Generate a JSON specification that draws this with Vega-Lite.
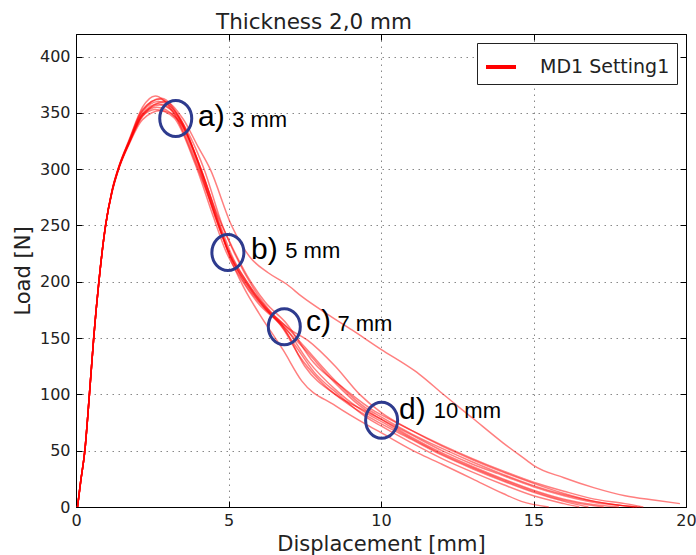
{
  "$schema": "https://vega.github.io/schema/vega-lite/v6.json",
  "width": 610,
  "height": 473,
  "autosize": {"type": "none"},
  "padding": {"left": 76, "top": 34, "right": 10, "bottom": 48},
  "background": "white",
  "title": {"text": "Thickness 2,0 mm", "anchor": "start", "frame": "group", "dx": 140, "fontSize": 21.5, "font": "DejaVu Sans", "fontWeight": "normal", "color": "#222", "baseline": "alphabetic", "offset": -17},
  "config": {
    "view": {"stroke": "#000", "strokeWidth": 1},
    "axis": {
      "domainColor": "#000", "domainWidth": 1,
      "tickColor": "#000", "tickSize": -6, "tickWidth": 1,
      "gridColor": "#888", "gridDash": [1.5, 4.5], "gridWidth": 1, "gridOpacity": 1,
      "labelFont": "DejaVu Sans", "labelFontSize": 16, "labelColor": "#222", "labelFlush": false,
      "titleFont": "DejaVu Sans", "titleFontSize": 21, "titleFontWeight": "normal", "titleColor": "#222"
    },
    "legend": {"labelFont": "DejaVu Sans"}
  },
  "datasets": {
    "curves": [
      {"c":1,"x":0.05,"y":0},{"c":1,"x":0.15,"y":22},{"c":1,"x":0.29,"y":50},{"c":1,"x":0.44,"y":100},{"c":1,"x":0.58,"y":150},{"c":1,"x":0.75,"y":200},{"c":1,"x":0.97,"y":250},{"c":1,"x":1.18,"y":280},{"c":1,"x":1.39,"y":300},{"c":1,"x":1.74,"y":324},
      {"c":1,"x":2.18,"y":349},{"c":1,"x":2.7,"y":358},{"c":1,"x":3.3,"y":348},{"c":1,"x":4.0,"y":305},{"c":1,"x":4.6,"y":255},{"c":1,"x":5.0,"y":227},{"c":1,"x":5.5,"y":200},{"c":1,"x":6.0,"y":182},{"c":1,"x":6.8,"y":160},{"c":1,"x":7.5,"y":140},{"c":1,"x":8.5,"y":110},{"c":1,"x":9.3,"y":90},{"c":1,"x":10,"y":78},{"c":1,"x":11,"y":62},{"c":1,"x":12,"y":48},{"c":1,"x":13,"y":36},{"c":1,"x":14,"y":25},{"c":1,"x":15,"y":15},{"c":1,"x":16,"y":7},{"c":1,"x":17,"y":2},{"c":1,"x":17.8,"y":0},
      {"c":2,"x":0.05,"y":0},{"c":2,"x":0.15,"y":22},{"c":2,"x":0.29,"y":50},{"c":2,"x":0.44,"y":100},{"c":2,"x":0.58,"y":150},{"c":2,"x":0.75,"y":200},{"c":2,"x":0.97,"y":250},{"c":2,"x":1.18,"y":281},{"c":2,"x":1.39,"y":301},{"c":2,"x":1.74,"y":326},
      {"c":2,"x":2.18,"y":355},{"c":2,"x":2.6,"y":365},{"c":2,"x":3.2,"y":350},{"c":2,"x":4.0,"y":300},{"c":2,"x":4.7,"y":250},{"c":2,"x":5.0,"y":228},{"c":2,"x":5.6,"y":200},{"c":2,"x":6.2,"y":178},{"c":2,"x":6.8,"y":160},{"c":2,"x":7.5,"y":125},{"c":2,"x":8.5,"y":100},{"c":2,"x":9.5,"y":85},{"c":2,"x":10,"y":78},{"c":2,"x":11,"y":64},{"c":2,"x":12,"y":50},{"c":2,"x":13,"y":38},{"c":2,"x":14,"y":28},{"c":2,"x":15,"y":18},{"c":2,"x":16,"y":10},{"c":2,"x":17,"y":4},{"c":2,"x":18,"y":1},{"c":2,"x":18.4,"y":0},
      {"c":3,"x":0.05,"y":0},{"c":3,"x":0.15,"y":22},{"c":3,"x":0.29,"y":50},{"c":3,"x":0.44,"y":100},{"c":3,"x":0.58,"y":150},{"c":3,"x":0.75,"y":200},{"c":3,"x":0.97,"y":250},{"c":3,"x":1.18,"y":279},{"c":3,"x":1.39,"y":299},{"c":3,"x":1.74,"y":322},
      {"c":3,"x":2.18,"y":344},{"c":3,"x":2.8,"y":352},{"c":3,"x":3.4,"y":342},{"c":3,"x":4.1,"y":300},{"c":3,"x":4.7,"y":250},{"c":3,"x":5.0,"y":225},{"c":3,"x":5.5,"y":195},{"c":3,"x":6.0,"y":172},{"c":3,"x":6.8,"y":139},{"c":3,"x":7.4,"y":112},{"c":3,"x":8.5,"y":90},{"c":3,"x":9.6,"y":72},{"c":3,"x":10,"y":66},{"c":3,"x":11.2,"y":48},{"c":3,"x":12,"y":38},{"c":3,"x":13,"y":25},{"c":3,"x":14,"y":12},{"c":3,"x":14.6,"y":5},{"c":3,"x":15.5,"y":0},
      {"c":4,"x":0.05,"y":0},{"c":4,"x":0.15,"y":22},{"c":4,"x":0.29,"y":50},{"c":4,"x":0.44,"y":100},{"c":4,"x":0.58,"y":150},{"c":4,"x":0.75,"y":200},{"c":4,"x":0.97,"y":250},{"c":4,"x":1.18,"y":280},{"c":4,"x":1.39,"y":300},{"c":4,"x":1.74,"y":323},
      {"c":4,"x":2.18,"y":347},{"c":4,"x":2.9,"y":360},{"c":4,"x":3.5,"y":345},{"c":4,"x":4.0,"y":320},{"c":4,"x":4.4,"y":300},{"c":4,"x":5.1,"y":250},{"c":4,"x":5.7,"y":222},{"c":4,"x":6.3,"y":208},{"c":4,"x":6.9,"y":198},{"c":4,"x":7.4,"y":187},{"c":4,"x":8.2,"y":172},{"c":4,"x":9.06,"y":157},{"c":4,"x":10,"y":140},{"c":4,"x":11.1,"y":121},{"c":4,"x":11.25,"y":118},{"c":4,"x":12,"y":101},{"c":4,"x":13,"y":79},{"c":4,"x":14,"y":57},{"c":4,"x":14.8,"y":41},{"c":4,"x":15,"y":37},{"c":4,"x":16,"y":26},{"c":4,"x":17,"y":17},{"c":4,"x":18,"y":10},{"c":4,"x":19,"y":6},{"c":4,"x":19.8,"y":3},
      {"c":5,"x":0.05,"y":0},{"c":5,"x":0.15,"y":22},{"c":5,"x":0.29,"y":50},{"c":5,"x":0.44,"y":100},{"c":5,"x":0.58,"y":150},{"c":5,"x":0.75,"y":200},{"c":5,"x":0.97,"y":250},{"c":5,"x":1.18,"y":281},{"c":5,"x":1.39,"y":301},{"c":5,"x":1.74,"y":325},
      {"c":5,"x":2.18,"y":353},{"c":5,"x":2.75,"y":362},{"c":5,"x":3.4,"y":345},{"c":5,"x":4.2,"y":300},{"c":5,"x":4.8,"y":250},{"c":5,"x":5.2,"y":225},{"c":5,"x":5.8,"y":195},{"c":5,"x":6.5,"y":170},{"c":5,"x":7.0,"y":158},{"c":5,"x":7.6,"y":148},{"c":5,"x":8.5,"y":125},{"c":5,"x":9.3,"y":100},{"c":5,"x":10,"y":84},{"c":5,"x":11,"y":68},{"c":5,"x":12,"y":54},{"c":5,"x":13,"y":42},{"c":5,"x":14,"y":31},{"c":5,"x":15,"y":21},{"c":5,"x":16,"y":12},{"c":5,"x":17,"y":5},{"c":5,"x":18,"y":1},{"c":5,"x":18.5,"y":0},
      {"c":6,"x":0.05,"y":0},{"c":6,"x":0.15,"y":22},{"c":6,"x":0.29,"y":50},{"c":6,"x":0.44,"y":100},{"c":6,"x":0.58,"y":150},{"c":6,"x":0.75,"y":200},{"c":6,"x":0.97,"y":250},{"c":6,"x":1.18,"y":280},{"c":6,"x":1.39,"y":300},{"c":6,"x":1.74,"y":323},
      {"c":6,"x":2.18,"y":348},{"c":6,"x":2.65,"y":355},{"c":6,"x":3.3,"y":345},{"c":6,"x":4.0,"y":302},{"c":6,"x":4.6,"y":255},{"c":6,"x":5.0,"y":226},{"c":6,"x":5.5,"y":202},{"c":6,"x":6.1,"y":180},{"c":6,"x":6.8,"y":158},{"c":6,"x":7.3,"y":135},{"c":6,"x":8.0,"y":112},{"c":6,"x":9.0,"y":90},{"c":6,"x":10,"y":74},{"c":6,"x":11,"y":60},{"c":6,"x":12,"y":46},{"c":6,"x":13,"y":34},{"c":6,"x":14,"y":23},{"c":6,"x":15,"y":13},{"c":6,"x":16,"y":5},{"c":6,"x":16.8,"y":0},
      {"c":7,"x":0.05,"y":0},{"c":7,"x":0.15,"y":22},{"c":7,"x":0.29,"y":50},{"c":7,"x":0.44,"y":100},{"c":7,"x":0.58,"y":150},{"c":7,"x":0.75,"y":200},{"c":7,"x":0.97,"y":250},{"c":7,"x":1.18,"y":280},{"c":7,"x":1.39,"y":300},{"c":7,"x":1.74,"y":324},
      {"c":7,"x":2.18,"y":351},{"c":7,"x":2.7,"y":360},{"c":7,"x":3.3,"y":350},{"c":7,"x":4.1,"y":298},{"c":7,"x":4.7,"y":248},{"c":7,"x":5.0,"y":226},{"c":7,"x":5.6,"y":198},{"c":7,"x":6.2,"y":176},{"c":7,"x":6.9,"y":158},{"c":7,"x":7.6,"y":130},{"c":7,"x":8.6,"y":102},{"c":7,"x":9.6,"y":82},{"c":7,"x":10,"y":76},{"c":7,"x":11,"y":61},{"c":7,"x":12,"y":47},{"c":7,"x":13,"y":35},{"c":7,"x":14,"y":24},{"c":7,"x":15,"y":14},{"c":7,"x":16,"y":6},{"c":7,"x":17,"y":1},{"c":7,"x":17.3,"y":0},
      {"c":8,"x":0.05,"y":0},{"c":8,"x":0.15,"y":22},{"c":8,"x":0.29,"y":50},{"c":8,"x":0.44,"y":100},{"c":8,"x":0.58,"y":150},{"c":8,"x":0.75,"y":200},{"c":8,"x":0.97,"y":250},{"c":8,"x":1.18,"y":281},{"c":8,"x":1.39,"y":301},{"c":8,"x":1.74,"y":325},
      {"c":8,"x":2.18,"y":352},{"c":8,"x":2.8,"y":363},{"c":8,"x":3.5,"y":340},{"c":8,"x":4.2,"y":292},{"c":8,"x":4.8,"y":245},{"c":8,"x":5.1,"y":224},{"c":8,"x":5.6,"y":200},{"c":8,"x":6.3,"y":175},{"c":8,"x":6.9,"y":160},{"c":8,"x":7.5,"y":142},{"c":8,"x":8.5,"y":112},{"c":8,"x":9.5,"y":88},{"c":8,"x":10,"y":80},{"c":8,"x":11,"y":65},{"c":8,"x":12,"y":52},{"c":8,"x":13,"y":40},{"c":8,"x":14,"y":29},{"c":8,"x":15,"y":19},{"c":8,"x":16,"y":11},{"c":8,"x":17,"y":5},{"c":8,"x":18,"y":1},{"c":8,"x":18.3,"y":0},
      {"c":9,"x":0.05,"y":0},{"c":9,"x":0.15,"y":22},{"c":9,"x":0.29,"y":50},{"c":9,"x":0.44,"y":100},{"c":9,"x":0.58,"y":150},{"c":9,"x":0.75,"y":200},{"c":9,"x":0.97,"y":250},{"c":9,"x":1.18,"y":280},{"c":9,"x":1.39,"y":300},{"c":9,"x":1.74,"y":323},
      {"c":9,"x":2.18,"y":347},{"c":9,"x":2.6,"y":353},{"c":9,"x":3.2,"y":346},{"c":9,"x":3.9,"y":305},{"c":9,"x":4.5,"y":258},{"c":9,"x":4.9,"y":228},{"c":9,"x":5.4,"y":203},{"c":9,"x":6.0,"y":180},{"c":9,"x":6.7,"y":162},{"c":9,"x":7.2,"y":143},{"c":9,"x":7.8,"y":120},{"c":9,"x":8.6,"y":100},{"c":9,"x":9.5,"y":80},{"c":9,"x":10,"y":72},{"c":9,"x":11,"y":57},{"c":9,"x":12,"y":43},{"c":9,"x":13,"y":31},{"c":9,"x":14,"y":20},{"c":9,"x":15,"y":10},{"c":9,"x":16,"y":3},{"c":9,"x":16.5,"y":0},
      {"c":10,"x":0.05,"y":0},{"c":10,"x":0.15,"y":22},{"c":10,"x":0.29,"y":50},{"c":10,"x":0.44,"y":100},{"c":10,"x":0.58,"y":150},{"c":10,"x":0.75,"y":200},{"c":10,"x":0.97,"y":250},{"c":10,"x":1.18,"y":280},{"c":10,"x":1.39,"y":300},{"c":10,"x":1.74,"y":324},
      {"c":10,"x":2.18,"y":349},{"c":10,"x":2.75,"y":357},{"c":10,"x":3.4,"y":343},{"c":10,"x":4.1,"y":300},{"c":10,"x":4.6,"y":262},{"c":10,"x":5.1,"y":232},{"c":10,"x":5.6,"y":206},{"c":10,"x":6.2,"y":182},{"c":10,"x":6.9,"y":163},{"c":10,"x":7.8,"y":128},{"c":10,"x":8.8,"y":105},{"c":10,"x":9.8,"y":85},{"c":10,"x":10,"y":82},{"c":10,"x":11,"y":68},{"c":10,"x":12,"y":55},{"c":10,"x":13,"y":43},{"c":10,"x":14,"y":32},{"c":10,"x":15,"y":22},{"c":10,"x":16,"y":14},{"c":10,"x":17,"y":7},{"c":10,"x":18,"y":3},{"c":10,"x":18.6,"y":0}
    ],
    "marks": [
      {"x": 3.27, "y": 345},
      {"x": 4.98, "y": 226},
      {"x": 6.83, "y": 160},
      {"x": 10.02, "y": 77}
    ],
    "letters": [
      {"t": "a)", "x": 4.0, "y": 338},
      {"t": "b)", "x": 5.74, "y": 220},
      {"t": "c)", "x": 7.54, "y": 156},
      {"t": "d)", "x": 10.59, "y": 78}
    ],
    "dists": [
      {"t": "3 mm", "x": 5.12, "y": 337},
      {"t": "5 mm", "x": 6.86, "y": 221},
      {"t": "7 mm", "x": 8.57, "y": 156},
      {"t": "10 mm", "x": 11.73, "y": 79}
    ]
  },
  "layer": [
    {
      "data": {"name": "curves"},
      "mark": {"type": "line", "interpolate": "monotone", "strokeWidth": 1.5, "opacity": 0.5},
      "encoding": {
        "x": {"field": "x", "type": "quantitative", "scale": {"domain": [0, 20], "nice": false},
              "axis": {"orient": "bottom", "values": [0, 5, 10, 15, 20], "title": "Displacement [mm]", "labelPadding": 11, "titlePadding": 5}},
        "y": {"field": "y", "type": "quantitative", "scale": {"domain": [0, 420], "nice": false},
              "axis": {"orient": "left", "values": [0, 50, 100, 150, 200, 250, 300, 350, 400], "title": "Load [N]", "labelPadding": 12, "titlePadding": 6}},
        "detail": {"field": "c", "type": "nominal"},
        "color": {"datum": "MD1 Setting1", "type": "nominal", "scale": {"range": ["#ff0000"]},
                  "legend": {"title": null, "orient": "top-right", "offset": 9, "symbolType": "stroke", "symbolSize": 900, "symbolStrokeWidth": 4, "symbolOpacity": 1, "labelFontSize": 19, "labelColor": "#222", "labelOffset": 22, "padding": 7, "fillColor": "white", "strokeColor": "#222", "cornerRadius": 0}}
      }
    },
    {
      "data": {"name": "marks"},
      "mark": {"type": "point", "shape": "M0,-1.125A1,1.125 0 1,1 0,1.125A1,1.125 0 1,1 0,-1.125Z", "size": 1024, "filled": false, "stroke": "#2e3b8e", "strokeWidth": 3, "opacity": 1},
      "encoding": {
        "x": {"field": "x", "type": "quantitative", "axis": {"orient": "top", "labels": false, "title": null, "grid": false, "values": [0, 5, 10, 15, 20], "minExtent": 0, "maxExtent": 0}},
        "y": {"field": "y", "type": "quantitative", "axis": {"orient": "right", "labels": false, "title": null, "grid": false, "values": [0, 50, 100, 150, 200, 250, 300, 350, 400], "minExtent": 0, "maxExtent": 0}}
      }
    },
    {
      "data": {"name": "letters"},
      "mark": {"type": "text", "align": "left", "baseline": "alphabetic", "font": "Liberation Sans", "fontSize": 30, "color": "#000"},
      "encoding": {
        "x": {"field": "x", "type": "quantitative", "axis": null},
        "y": {"field": "y", "type": "quantitative", "axis": null},
        "text": {"field": "t"}
      }
    },
    {
      "data": {"name": "dists"},
      "mark": {"type": "text", "align": "left", "baseline": "alphabetic", "font": "Liberation Sans", "fontSize": 22, "color": "#000"},
      "encoding": {
        "x": {"field": "x", "type": "quantitative", "axis": null},
        "y": {"field": "y", "type": "quantitative", "axis": null},
        "text": {"field": "t"}
      }
    }
  ],
  "resolve": {"axis": {"x": "independent", "y": "independent"}}
}
